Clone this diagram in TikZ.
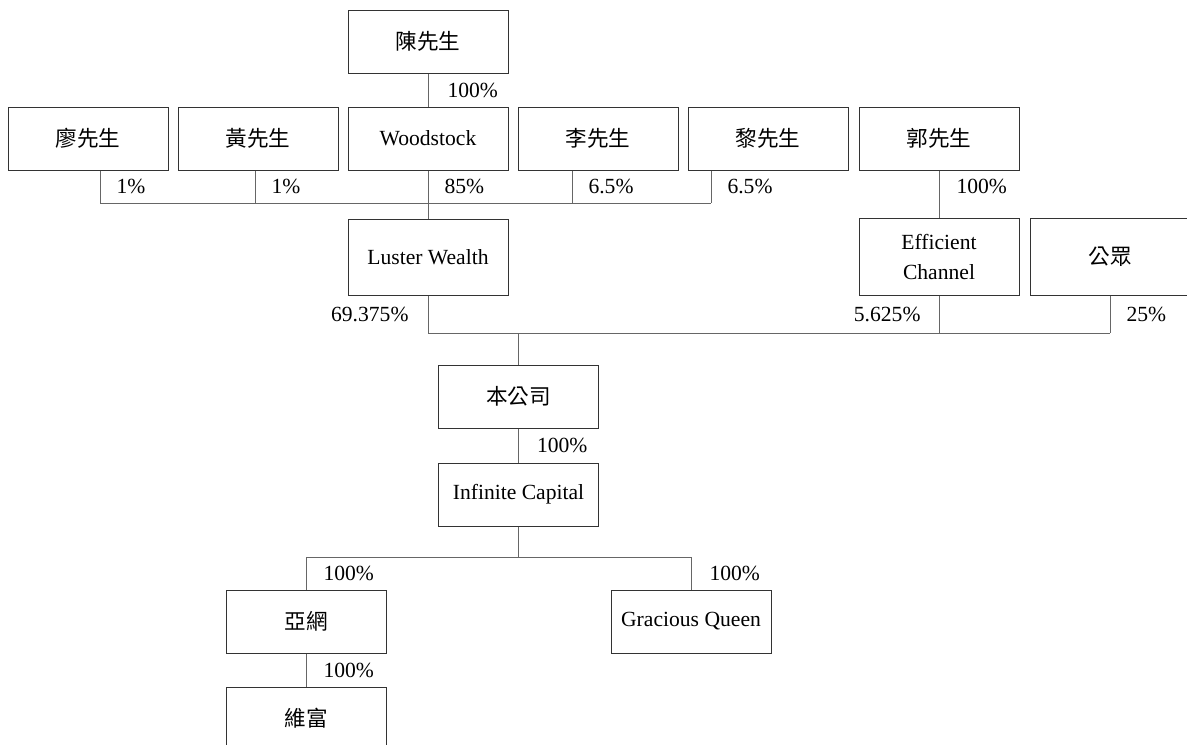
\documentclass[tikz,border=0pt]{standalone}
\usepackage{fontspec}
\setmainfont{Liberation Serif}
\newfontfamily\cjk{Noto Sans CJK TC}
\usetikzlibrary{positioning}
\tikzset{
    holder/.style={draw=black!80, line width=0.5pt, minimum width=80pt,
        minimum height=31.5pt, inner sep=1pt, align=center,
        font=\fontsize{10.8}{15}\selectfont},
    link/.style={draw=black!60, line width=0.5pt},
    pct/.style={inner sep=0pt, font=\fontsize{10.8}{13}\selectfont}
}

\begin{document}
\begin{tikzpicture}[x=0.5pt, y=-0.5pt]

    \useasboundingbox (0, 0) rectangle (1187, 744);

    \node[holder] (chen) at (428, 41.5) {\cjk 陳先生};
    \foreach \name/\xpos/\txt in {%
        liao/88/{\cjk 廖先生}, huang/258/{\cjk 黃先生}, wood/428/Woodstock,
        li/598/{\cjk 李先生}, lai/768/{\cjk 黎先生}, kwok/939/{\cjk 郭先生}} {%
        \node[holder] (\name) at (\xpos, 138.5) {\txt};
    };

    \node[holder, minimum height=38pt] (luster) at (428, 257) {Luster Wealth};
    \node[holder, minimum height=38.5pt] (effic) at (939, 256.5) {Efficient\\Channel};
    \node[holder, minimum height=38.5pt] (public) at (1110, 256.5) {\cjk 公眾};
    \node[holder] (company) at (518.5, 396.5) {\cjk 本公司};
    \node[holder] (infinite) at (518.5, 494.5) {Infinite Capital};
    \node[holder] (asianet) at (306, 621.5) {\cjk 亞網};
    \node[holder] (gracious) at (691, 621.5) {Gracious Queen};
    \node[holder] (weifu) at (306, 718.5) {\cjk 維富};

    \coordinate (topbus) at (428, 203);
    \coordinate (midbus) at (518.5, 333);
    \coordinate (lowbus) at (518.5, 557);

    \draw[link] (chen) -- node[pct, right=9.5pt] {100\%} (wood);

    \foreach \name/\shift/\share in {%
        liao/6pt/1, huang/-1.5pt/1, wood/0pt/85, li/-13pt/6.5, lai/-28.5pt/6.5} {%
        \draw[link] ([xshift=\shift]\name.south) --
            node[pct, right=8pt] {\share\%} ([xshift=\shift]\name.south |- topbus);
    };
    \draw[link] ([xshift=6pt]liao.south |- topbus) -- ([xshift=-28.5pt]lai.south |- topbus);
    \draw[link] (topbus) -- (luster);

    \draw[link] (kwok) -- node[pct, pos=0.33, right=8.5pt] {100\%} (effic);

    \draw[link] (luster.south) -- node[pct, left=9.5pt] {69.375\%} (luster.south |- midbus);
    \draw[link] (effic.south) -- node[pct, left=9pt] {5.625\%} (effic.south |- midbus);
    \draw[link] (public.south) -- node[pct, right=8pt] {25\%} (public.south |- midbus);
    \draw[link] (luster.south |- midbus) -- (public.south |- midbus);
    \draw[link] (midbus) -- (company);

    \draw[link] (company) -- node[pct, right=9pt] {100\%} (infinite);
    \draw[link] (infinite) -- (lowbus);
    \draw[link] (asianet.north |- lowbus) -- (gracious.north |- lowbus);
    \draw[link] (asianet.north |- lowbus) -- node[pct, right=8.5pt] {100\%} (asianet);
    \draw[link] (gracious.north |- lowbus) -- node[pct, right=9pt] {100\%} (gracious);
    \draw[link] (asianet) -- node[pct, right=8.5pt] {100\%} (weifu);

\end{tikzpicture}
\end{document}
